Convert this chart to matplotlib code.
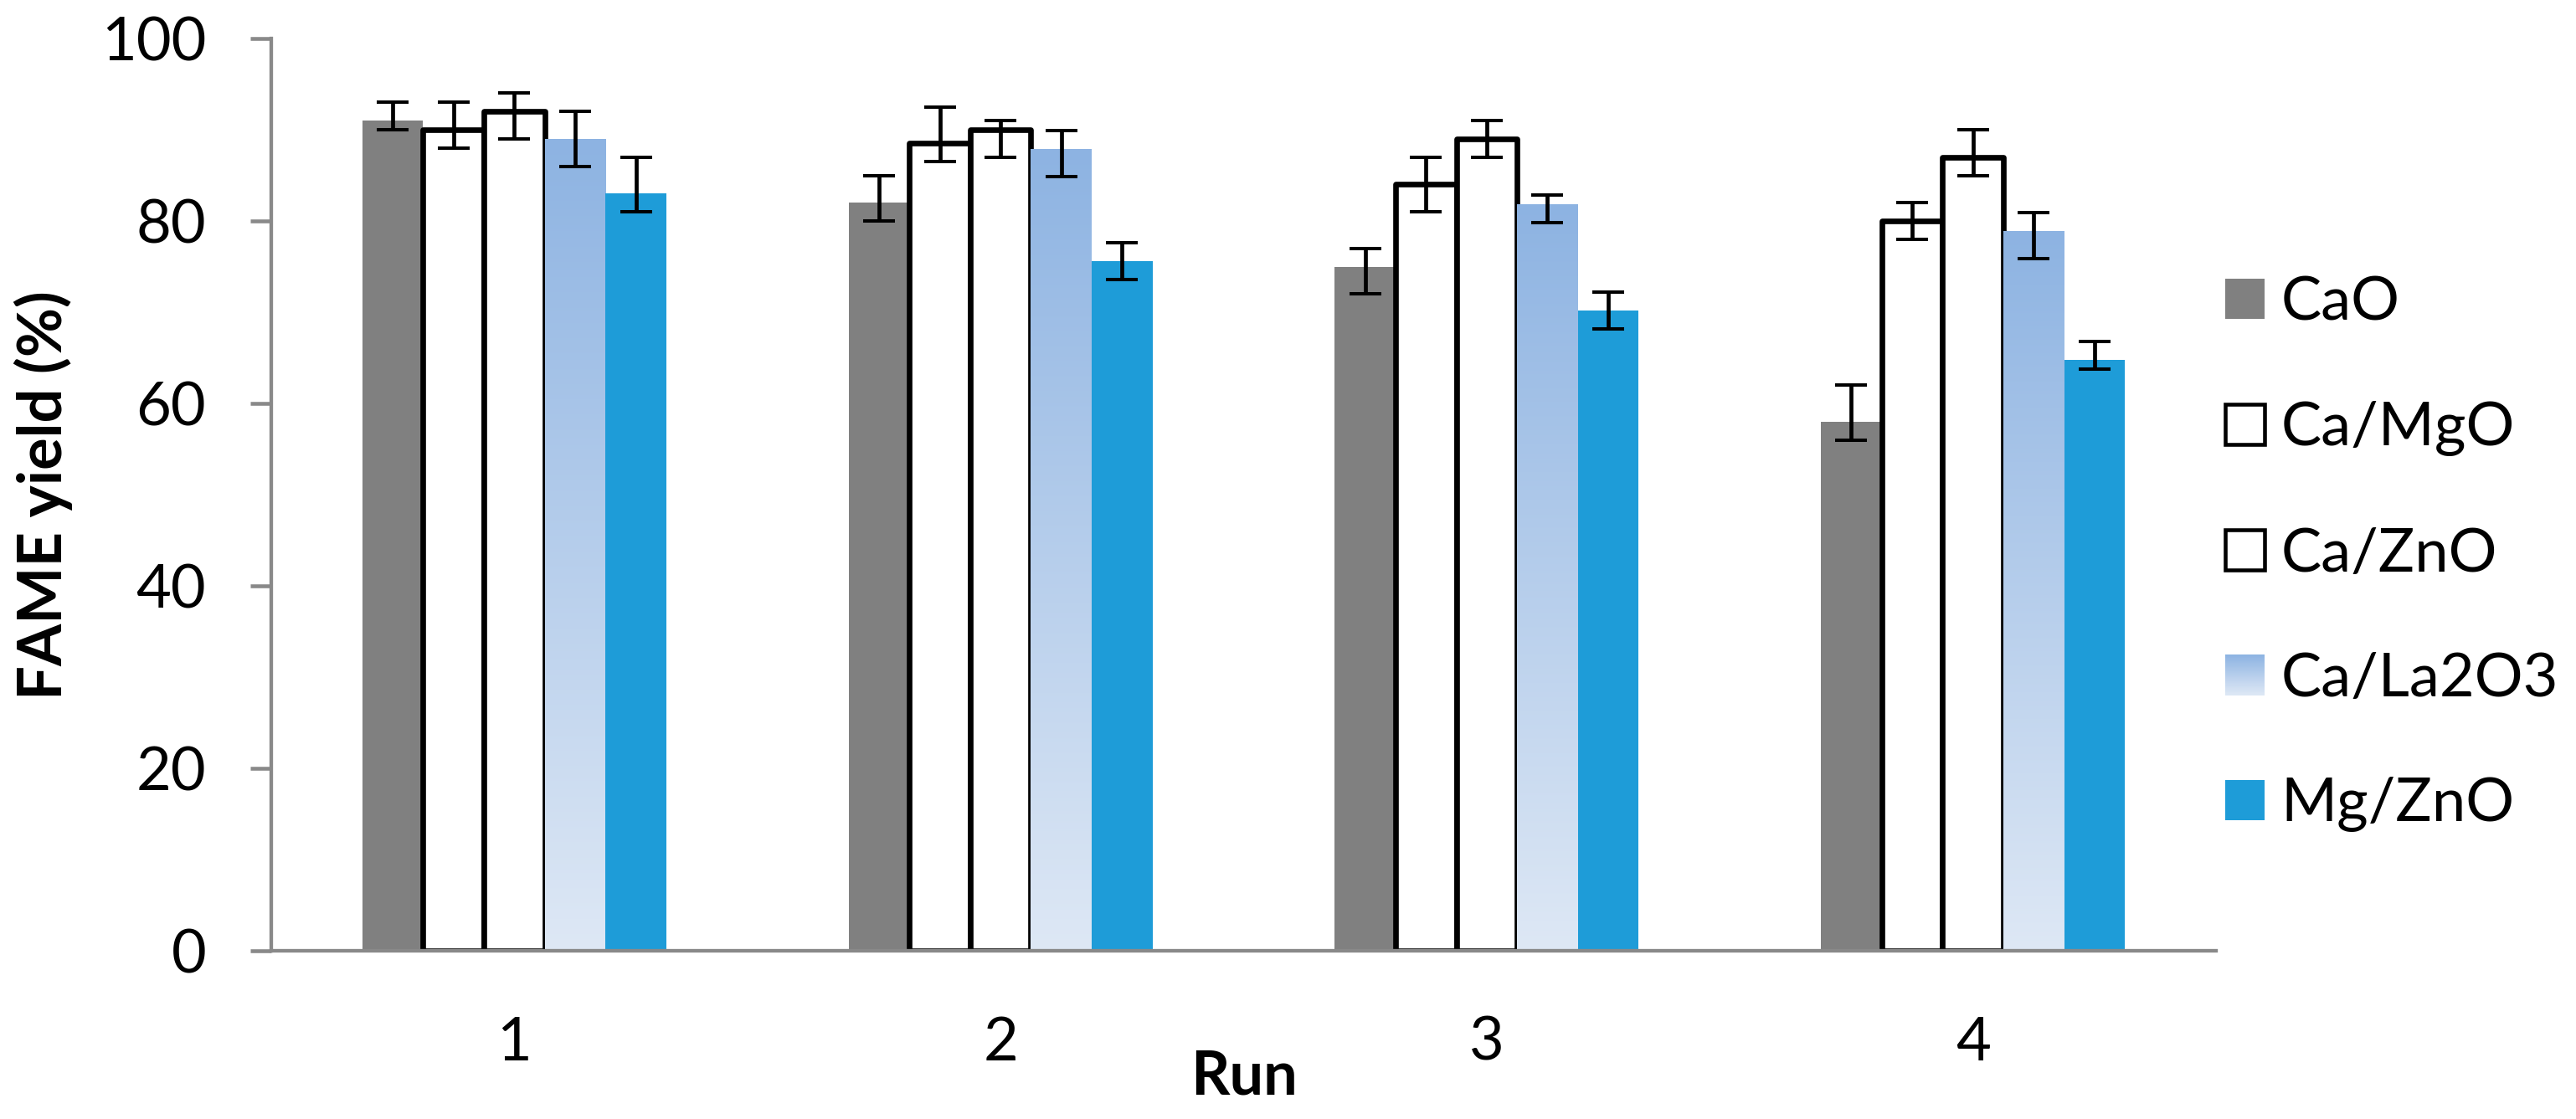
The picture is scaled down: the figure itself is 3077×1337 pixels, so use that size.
import numpy as np
import matplotlib
matplotlib.use("Agg")
import matplotlib.pyplot as plt
from matplotlib.patches import Patch, Rectangle
from matplotlib.legend_handler import HandlerBase
from matplotlib.colors import to_rgb

plt.rcParams['font.family'] = ['Lato', 'DejaVu Sans']

# ---------------- data ----------------
runs = ['1', '2', '3', '4']
series = ['CaO', 'Ca/MgO', 'Ca/ZnO', 'Ca/La2O3', 'Mg/ZnO']

cao = [91, 82, 75, 58]
ca_mgo = [90, 88.5, 84, 80]
ca_zno = [92, 90, 89, 87]
ca_la2o3 = [89, 87.9, 81.8, 78.9]
mg_zno = [83, 75.6, 70.2, 64.8]

cao_up, cao_dn = [2, 3, 2, 4], [1, 2, 3, 2]
ca_mgo_up, ca_mgo_dn = [3, 4, 3, 2], [2, 2, 3, 2]
ca_zno_up, ca_zno_dn = [2, 1, 2, 3], [3, 3, 2, 2]
ca_la2o3_up, ca_la2o3_dn = [3, 2, 1, 2], [3, 3, 2, 3]
mg_zno_up, mg_zno_dn = [4, 2, 2, 2], [2, 2, 2, 1]

yticks = [0, 20, 40, 60, 80, 100]

# ---------------- style ----------------
GRAY = '#808080'
BLUE = '#1E9CD8'
GRAD_TOP = '#8DB3E2'
GRAD_BOT = '#DEE8F5'
AXCOL = '#898989'

W, H = 3077, 1337
fig = plt.figure(figsize=(W / 100, H / 100), dpi=100)
ax = fig.add_axes([324 / W, 1 - 1136 / H, (2647 - 324) / W, (1136 - 46) / H])

x = np.arange(1, len(runs) + 1)
bw = 1 / 8.0
vals = [cao, ca_mgo, ca_zno, ca_la2o3, mg_zno]
ups = [cao_up, ca_mgo_up, ca_zno_up, ca_la2o3_up, mg_zno_up]
dns = [cao_dn, ca_mgo_dn, ca_zno_dn, ca_la2o3_dn, mg_zno_dn]
offs = [(i - 2) * bw for i in range(5)]

grad = np.linspace(0, 1, 256).reshape(-1, 1)
c_top = np.array(to_rgb(GRAD_TOP))
c_bot = np.array(to_rgb(GRAD_BOT))
grad_img = c_bot[None, None, :] * (1 - grad[:, :, None]) + c_top[None, None, :] * grad[:, :, None]

for i, (v, off) in enumerate(zip(vals, offs)):
    xp = x + off
    z = 1 + i * 0.1
    if i == 0:
        ax.bar(xp, v, bw, color=GRAY, edgecolor='none', zorder=z)
    elif i in (1, 2):
        ax.bar(xp, v, bw, facecolor='white', edgecolor='black', linewidth=4.8,
               joinstyle='round', zorder=z)
    elif i == 3:
        bars = ax.bar(xp, v, bw, facecolor='none', edgecolor='none', zorder=z)
        for b, xv, hv in zip(bars, xp, v):
            im = ax.imshow(grad_img, extent=[xv - bw / 2, xv + bw / 2, 0, hv],
                           origin='lower', aspect='auto', zorder=z,
                           interpolation='bilinear')
            im.set_clip_path(b)
    else:
        ax.bar(xp, v, bw, color=BLUE, edgecolor='none', zorder=z)

for v, off, u, d in zip(vals, offs, ups, dns):
    ax.errorbar(x + off, v, yerr=[d, u], fmt='none', ecolor='black',
                elinewidth=3.4, capsize=14, capthick=2.9, zorder=5)

ax.set_xlim(0.5, len(runs) + 0.5)
ax.set_ylim(0, 100)
ax.set_yticks(yticks)
ax.set_xticks(x)
ax.set_xticklabels(runs)

for s in ('top', 'right'):
    ax.spines[s].set_visible(False)
for s in ('left', 'bottom'):
    ax.spines[s].set_color(AXCOL)
    ax.spines[s].set_linewidth(3.1)
    ax.spines[s].set_zorder(3)

ax.tick_params(axis='y', length=18, width=3.3, color=AXCOL, pad=38, labelsize=52)
ax.tick_params(axis='x', length=0, pad=56, labelsize=52)

fig.text(52 / W, 1 - 592 / H, 'FAME yield (%)', rotation=90, ha='center', va='center',
         fontsize=52, fontweight='bold')
fig.text(1486 / W, 1 - 1307 / H, 'Run', ha='center', va='baseline',
         fontsize=52, fontweight='bold')


# ---------------- legend ----------------
class GradHandle:
    pass


class HandlerGrad(HandlerBase):
    def create_artists(self, legend, orig_handle, xdescent, ydescent, width,
                       height, fontsize, trans):
        n = 40
        arts = []
        for k in range(n):
            f = (k + 0.5) / n
            col = c_bot * (1 - f) + c_top * f
            r = Rectangle((-xdescent, -ydescent + height * k / n), width,
                          height / n * 1.05, facecolor=col, edgecolor='none',
                          transform=trans)
            arts.append(r)
        return arts


handles = [
    Patch(facecolor=GRAY, edgecolor='none'),
    Patch(facecolor='white', edgecolor='black', linewidth=3.3),
    Patch(facecolor='white', edgecolor='black', linewidth=3.3),
    GradHandle(),
    Patch(facecolor=BLUE, edgecolor='none'),
]
leg = fig.legend(handles, series, handler_map={GradHandle: HandlerGrad()},
                 loc='center left', bbox_to_anchor=(2658 / W, 1 - 662 / H),
                 frameon=False, fontsize=52, handlelength=0.65, handleheight=0.65,
                 handletextpad=0.27, labelspacing=1.17, borderpad=0, borderaxespad=0)

fig.savefig('out.png', dpi=100)
